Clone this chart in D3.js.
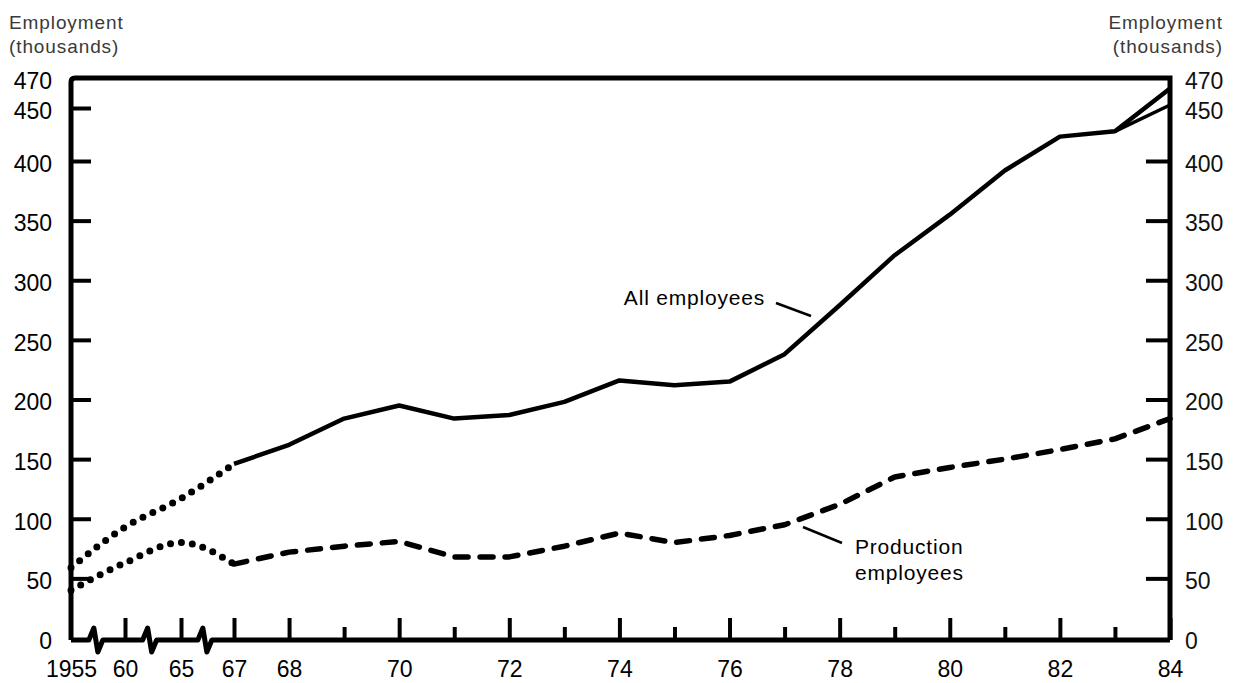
<!DOCTYPE html>
<html>
<head>
<meta charset="utf-8">
<script src="https://cdn.jsdelivr.net/npm/d3@7"></script>
<style>
  body { margin: 0; background: #fff; }
  text { font-family: "Liberation Sans", Arial, Helvetica, sans-serif; }
</style>
</head>
<body>
<div id="viz"></div>
<script>
"use strict";

const w = 1234;
const h = 683;

// early years (dotted, broken axis)
const yearsEarly = [1955, 1960, 1965, 1967];
const allEarly = [59, 93, 117, 146];
const prodEarly = [40, 63, 80, 62];

// annual 1967-84
const years = d3.range(1967, 1985);
const allEmp = [146, 162, 184, 195, 184, 187, 198, 216, 212, 215, 238, 279, 321, 355, 392, 423, 428, 463];
const prodEmp = [62, 72, 77, 81, 68, 68, 77, 88, 80, 86, 95, 112, 135, 143, 150, 158, 167, 184];
// second trace near the end of the series
const altYears = [1983, 1984];
const allAlt = [428, 452];

const yTicks = [0, 50, 100, 150, 200, 250, 300, 350, 400, 450, 470];
const xTicks = [1955, 1960, 1965, 1967, 1968, 1969, 1970, 1971, 1972, 1973, 1974, 1975, 1976, 1977, 1978, 1979, 1980, 1981, 1982, 1983, 1984];
const xLabels = { 1955: "1955", 1960: "60", 1965: "65", 1967: "67", 1968: "68", 1970: "70", 1972: "72", 1974: "74", 1976: "76", 1978: "78", 1980: "80", 1982: "82", 1984: "84" };
const breaks = [1957.3, 1962.2, 1965.9];

const plotL = 71, plotR = 1170, plotT = 78, base = 640;

const x = d3.scaleLinear()
  .domain([1955, 1960, 1965, 1967, 1984])
  .range([plotL, 125, 181, 234, plotR]);

const y = d3.scaleLinear()
  .domain([0, 400, 450, 470])
  .range([638, 161, 108, plotT]);

const svg = d3.select("#viz")
  .append("svg")
  .attr("width", w)
  .attr("height", h);

// axis titles
const titles = [
  { x: 9, anchor: "start" },
  { x: 1223, anchor: "end" }
];
titles.forEach((t) => {
  svg.append("text")
    .attr("x", t.x).attr("y", 29)
    .attr("text-anchor", t.anchor)
    .attr("font-size", 19).attr("letter-spacing", 0.9)
    .attr("fill", "#3a3a3a")
    .text("Employment");
  svg.append("text")
    .attr("x", t.x).attr("y", 53)
    .attr("text-anchor", t.anchor)
    .attr("font-size", 19).attr("letter-spacing", 0.9)
    .attr("fill", "#3a3a3a")
    .text("(thousands)");
});

// y axes
const yLeft = svg.append("g")
  .attr("transform", `translate(${plotL},0)`)
  .call(d3.axisLeft(y).tickValues(yTicks).tickSize(-20).tickPadding(19).tickFormat(d3.format("d")));

const yRight = svg.append("g")
  .attr("transform", `translate(${plotR},0)`)
  .call(d3.axisRight(y).tickValues(yTicks).tickSize(-24).tickPadding(15).tickFormat(d3.format("d")));

[yLeft, yRight].forEach((g) => {
  g.select(".domain").remove();
  g.selectAll(".tick line")
    .attr("stroke", "#000").attr("stroke-width", 4)
    .attr("display", (d) => (d === 0 || d === 470) ? "none" : null);
  g.selectAll(".tick text")
    .attr("font-size", 23).attr("fill", "#000")
    .attr("dy", "0.45em");
});
yRight.selectAll(".tick line").attr("display", (d) => (d === 0 || d >= 450) ? "none" : null);
yRight.selectAll(".tick text").attr("fill", "#111");

// x axis
const xAxis = svg.append("g")
  .attr("transform", `translate(0,${base})`)
  .call(d3.axisBottom(x).tickValues(xTicks).tickSize(0).tickPadding(21)
    .tickFormat((d) => xLabels[d] || ""));
xAxis.select(".domain").remove();
xAxis.selectAll(".tick text").attr("font-size", 23).attr("fill", "#000");
xAxis.selectAll(".tick").append("line")
  .attr("stroke", "#000").attr("stroke-width", 4)
  .attr("y1", 0)
  .attr("y2", (d) => xLabels[d] ? -22 : -13)
  .attr("display", (d) => d === 1955 ? "none" : null);

// frame with axis breaks
let bottom = `M${plotL},${base}`;
breaks.forEach((b) => {
  const bx = x(b);
  bottom += `L${bx - 7},${base}L${bx - 2},${base - 12}L${bx + 2},${base + 12}L${bx + 7},${base}`;
});
bottom += `L${plotR},${base}`;

svg.append("path")
  .attr("d", bottom)
  .attr("fill", "none").attr("stroke", "#000")
  .attr("stroke-width", 5).attr("stroke-linejoin", "round");

svg.append("path")
  .attr("d", `M${plotL},${base}V${plotT + 4}Q${plotL},${plotT} ${plotL + 4},${plotT}H${plotR}V${base}`)
  .attr("fill", "none").attr("stroke", "#000")
  .attr("stroke-width", 5);

// lines
const line = d3.line()
  .x((d) => x(d[0]))
  .y((d) => y(d[1]))
  .curve(d3.curveMonotoneX);

const straight = d3.line()
  .x((d) => x(d[0]))
  .y((d) => y(d[1]));

svg.append("path")
  .datum(d3.zip(yearsEarly, allEarly))
  .attr("d", line)
  .attr("fill", "none").attr("stroke", "#000")
  .attr("stroke-width", 7).attr("stroke-linecap", "round")
  .attr("stroke-dasharray", "0 11");

svg.append("path")
  .datum(d3.zip(yearsEarly, prodEarly))
  .attr("d", line)
  .attr("fill", "none").attr("stroke", "#000")
  .attr("stroke-width", 7).attr("stroke-linecap", "round")
  .attr("stroke-dasharray", "0 11");

svg.append("path")
  .datum(d3.zip(years, allEmp))
  .attr("d", straight)
  .attr("fill", "none").attr("stroke", "#000")
  .attr("stroke-width", 4.5).attr("stroke-linejoin", "round");

svg.append("path")
  .datum(d3.zip(altYears, allAlt))
  .attr("d", straight)
  .attr("fill", "none").attr("stroke", "#000")
  .attr("stroke-width", 3.5);

svg.append("path")
  .datum(d3.zip(years, prodEmp))
  .attr("d", straight)
  .attr("fill", "none").attr("stroke", "#000")
  .attr("stroke-width", 5.5).attr("stroke-linecap", "round")
  .attr("stroke-linejoin", "round")
  .attr("stroke-dasharray", "13 12");

// annotations
svg.append("text")
  .attr("x", 765).attr("y", 305)
  .attr("text-anchor", "end")
  .attr("font-size", 21).attr("letter-spacing", 0.8)
  .text("All employees");
svg.append("line")
  .attr("x1", 776).attr("y1", 303).attr("x2", 811).attr("y2", 316)
  .attr("stroke", "#000").attr("stroke-width", 2.5);

svg.append("text")
  .attr("x", 855).attr("y", 554)
  .attr("font-size", 21).attr("letter-spacing", 0.8)
  .text("Production");
svg.append("text")
  .attr("x", 855).attr("y", 580)
  .attr("font-size", 21).attr("letter-spacing", 0.8)
  .text("employees");
svg.append("line")
  .attr("x1", 803).attr("y1", 527).attr("x2", 842).attr("y2", 543)
  .attr("stroke", "#000").attr("stroke-width", 2.5);
</script>
</body>
</html>
